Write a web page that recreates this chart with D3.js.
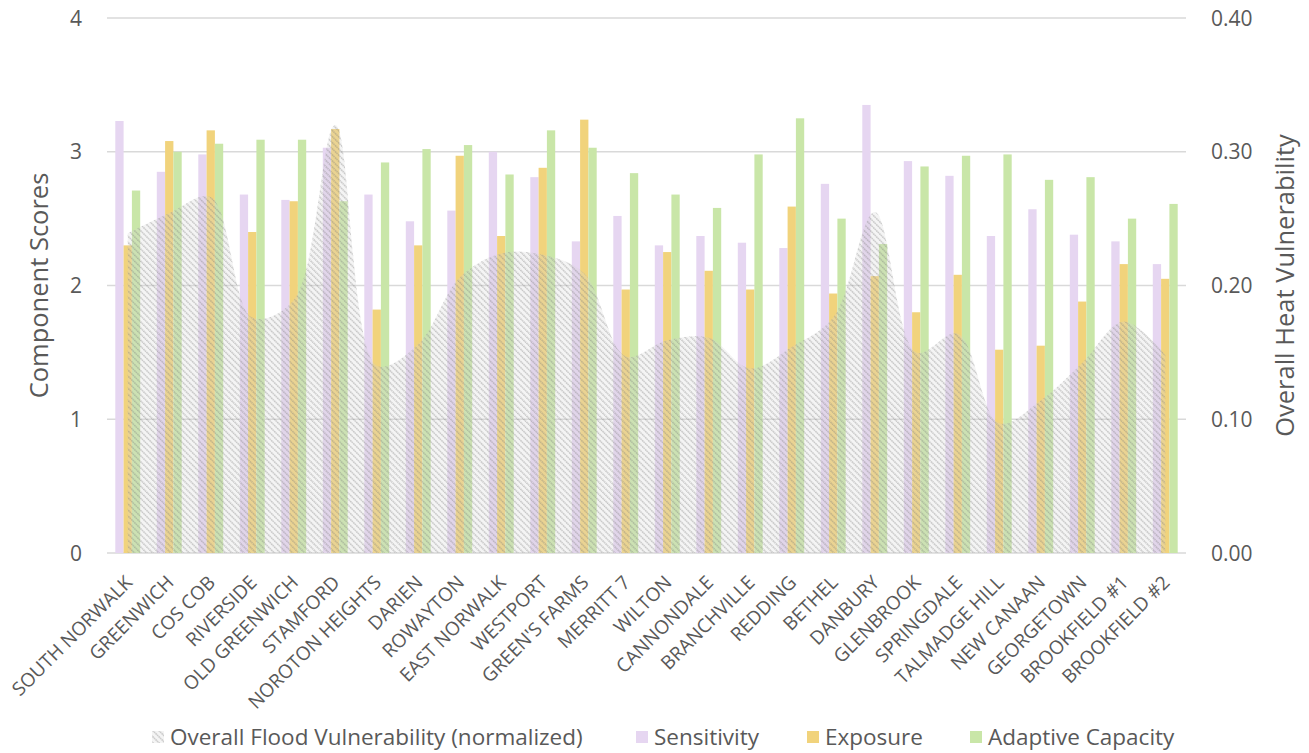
<!DOCTYPE html>
<html>
<head>
<meta charset="utf-8">
<script src="https://cdn.jsdelivr.net/npm/d3@7"></script>
<style>
  html, body { margin: 0; padding: 0; background: #fff; }
  svg { display: block; }
  text { font-family: "Open Sans", "Segoe UI", "Noto Sans", sans-serif; fill: #595959; }
</style>
</head>
<body>
<svg id="chart" width="1309" height="753"></svg>
<script>
// Station names along the category axis
const stations = [
  "SOUTH NORWALK", "GREENWICH", "COS COB", "RIVERSIDE", "OLD GREENWICH", "STAMFORD",
  "NOROTON HEIGHTS", "DARIEN", "ROWAYTON", "EAST NORWALK", "WESTPORT", "GREEN'S FARMS",
  "MERRITT 7", "WILTON", "CANNONDALE", "BRANCHVILLE", "REDDING", "BETHEL", "DANBURY",
  "GLENBROOK", "SPRINGDALE", "TALMADGE HILL", "NEW CANAAN", "GEORGETOWN",
  "BROOKFIELD #1", "BROOKFIELD #2"
];

// Component scores (left axis)
const sensitivity = [
  3.23, 2.85, 2.98, 2.68, 2.64, 3.03, 2.68, 2.48, 2.56, 3.00, 2.81, 2.33, 2.52,
  2.30, 2.37, 2.32, 2.28, 2.76, 3.35, 2.93, 2.82, 2.37, 2.57, 2.38, 2.33, 2.16
];
const exposure = [
  2.30, 3.08, 3.16, 2.40, 2.63, 3.17, 1.82, 2.30, 2.97, 2.37, 2.88, 3.24, 1.97,
  2.25, 2.11, 1.97, 2.59, 1.94, 2.07, 1.80, 2.08, 1.52, 1.55, 1.88, 2.16, 2.05
];
const adaptiveCapacity = [
  2.71, 3.00, 3.06, 3.09, 3.09, 2.63, 2.92, 3.02, 3.05, 2.83, 3.16, 3.03, 2.84,
  2.68, 2.58, 2.98, 3.25, 2.50, 2.31, 2.89, 2.97, 2.98, 2.79, 2.81, 2.50, 2.61
];

// Overall flood vulnerability, normalized (right axis)
const floodVulnerability = [
  0.239, 0.254, 0.266, 0.176, 0.189, 0.320, 0.140, 0.156, 0.206, 0.224, 0.223, 0.209, 0.147,
  0.159, 0.161, 0.138, 0.154, 0.176, 0.255, 0.150, 0.164, 0.097, 0.114, 0.142, 0.173, 0.148
];

// Axis ticks
const leftTicks = [0, 1, 2, 3, 4];
const rightTicks = [0, 0.1, 0.2, 0.3, 0.4];

const seriesNames = ["Sensitivity", "Exposure", "Adaptive Capacity"];
const seriesColors = ["#e6d6f1", "#f1d37c", "#c9e6a8"];

const svg = d3.select("#chart");
const plot = { left: 107, right: 1186, top: 18, bottom: 553 };

const x = d3.scaleBand()
  .domain(stations)
  .range([plot.left, plot.right])
  .paddingInner(0.4)
  .paddingOuter(0.2);

const xSeries = d3.scaleBand()
  .domain(seriesNames)
  .range([0, x.bandwidth()]);

const yLeft = d3.scaleLinear().domain([0, 4]).range([plot.bottom, plot.top]);
const yRight = d3.scaleLinear().domain([0, 0.4]).range([plot.bottom, plot.top]);

// Diagonal hatch pattern for the vulnerability area
const defs = svg.append("defs");
const hatch = defs.append("pattern")
  .attr("id", "hatch")
  .attr("patternUnits", "userSpaceOnUse")
  .attr("width", 4.3)
  .attr("height", 4.3)
  .attr("patternTransform", "rotate(-45)");
hatch.append("rect")
  .attr("width", 4.3).attr("height", 4.3)
  .attr("fill", "rgba(210,210,210,0.25)");
hatch.append("line")
  .attr("x1", 0.8).attr("y1", 0).attr("x2", 0.8).attr("y2", 4.3)
  .attr("stroke", "rgba(120,120,120,0.45)")
  .attr("stroke-width", 1.3)
  .attr("stroke-dasharray", "1.6,0.55");

// Gridlines
svg.append("g")
  .selectAll("line")
  .data(leftTicks)
  .join("line")
  .attr("x1", plot.left)
  .attr("x2", plot.right)
  .attr("y1", d => yLeft(d))
  .attr("y2", d => yLeft(d))
  .attr("stroke", "#d9d9d9")
  .attr("stroke-width", 1.3);

// Grouped bars
const seriesData = [sensitivity, exposure, adaptiveCapacity];
const groups = svg.append("g")
  .selectAll("g")
  .data(stations)
  .join("g")
  .attr("transform", d => `translate(${x(d)},0)`);

groups.selectAll("rect")
  .data((d, i) => seriesNames.map((s, k) => ({ series: s, value: seriesData[k][i], color: seriesColors[k] })))
  .join("rect")
  .attr("x", d => xSeries(d.series))
  .attr("width", xSeries.bandwidth())
  .attr("y", d => yLeft(d.value))
  .attr("height", d => yLeft(0) - yLeft(d.value))
  .attr("fill", d => d.color);

// Vulnerability area on the secondary axis
const area = d3.area()
  .x((d, i) => x(stations[i]) + x.bandwidth() / 2)
  .y0(yRight(0))
  .y1(d => yRight(d))
  .curve(d3.curveCatmullRom.alpha(0.5));

svg.append("path")
  .datum(floodVulnerability)
  .attr("d", area)
  .attr("fill", "url(#hatch)");

// Left axis labels
svg.append("g")
  .selectAll("text")
  .data(leftTicks)
  .join("text")
  .attr("x", 82)
  .attr("y", d => yLeft(d))
  .attr("dy", "0.36em")
  .attr("text-anchor", "end")
  .style("font-size", "21px")
  .text(d => d3.format("d")(d));

// Right axis labels
svg.append("g")
  .selectAll("text")
  .data(rightTicks)
  .join("text")
  .attr("x", 1211)
  .attr("y", d => yRight(d))
  .attr("dy", "0.36em")
  .attr("text-anchor", "start")
  .style("font-size", "21px")
  .text(d => d3.format(".2f")(d));

// Axis titles
svg.append("text")
  .attr("transform", `translate(48,${yLeft(2)}) rotate(-90)`)
  .attr("text-anchor", "middle")
  .style("font-size", "25.5px")
  .text("Component Scores");

svg.append("text")
  .attr("transform", `translate(1294,${yLeft(2)}) rotate(-90)`)
  .attr("text-anchor", "middle")
  .style("font-size", "25.5px")
  .text("Overall Heat Vulnerability");

// Category labels
svg.append("g")
  .selectAll("text")
  .data(stations)
  .join("text")
  .attr("transform", d => `translate(${x(d) + x.bandwidth() / 2 + 1},579) rotate(-45)`)
  .attr("dy", "0.35em")
  .attr("text-anchor", "end")
  .style("font-size", "19px")
  .text(d => d);

// Legend
const legendItems = [
  { label: "Overall Flood Vulnerability (normalized)", fill: "url(#hatch)", x: 152 },
  { label: "Sensitivity", fill: seriesColors[0], x: 636 },
  { label: "Exposure", fill: seriesColors[1], x: 807 },
  { label: "Adaptive Capacity", fill: seriesColors[2], x: 970 }
];
const legend = svg.append("g");
const item = legend.selectAll("g")
  .data(legendItems)
  .join("g")
  .attr("transform", d => `translate(${d.x},737)`);
item.append("rect")
  .attr("x", 0).attr("y", -6)
  .attr("width", 12).attr("height", 12)
  .attr("fill", d => d.fill);
item.append("text")
  .attr("x", 18)
  .attr("y", 0)
  .attr("dy", "0.35em")
  .style("font-size", "22.5px")
  .text(d => d.label);
</script>
</body>
</html>
